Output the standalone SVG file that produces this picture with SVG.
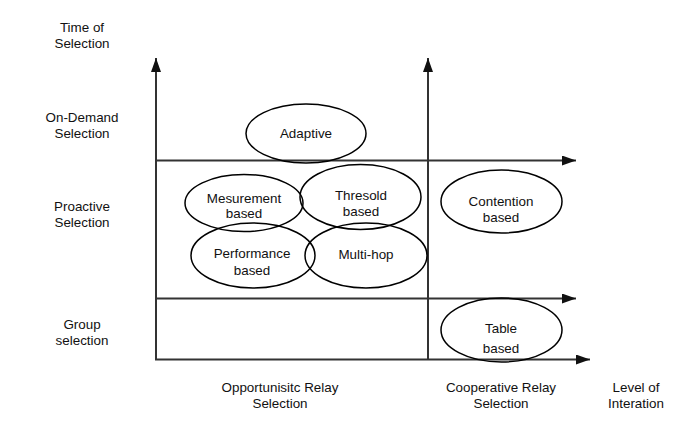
<svg xmlns="http://www.w3.org/2000/svg" width="699" height="434" viewBox="0 0 699 434">
<style>
  .ax { stroke: #333; stroke-width: 2; fill: none; }
  .el { stroke: #000; stroke-width: 1.5; fill: none; }
  text { font-family: "Liberation Sans", Arial, sans-serif; font-size: 13.4px; fill: #111; text-anchor: middle; }
</style>
<defs>
  <marker id="arr" viewBox="0 0 14 10" refX="14" refY="5" markerWidth="14" markerHeight="10" markerUnits="userSpaceOnUse" orient="auto">
    <path d="M0,0 L14,5 L0,10 Z" fill="#111"/>
  </marker>
</defs>
<rect width="699" height="434" fill="#fff"/>
<g id="connectors">
  <line class="ax" x1="156" y1="360" x2="156" y2="58" marker-end="url(#arr)"/>
  <line class="ax" x1="428" y1="360" x2="428" y2="58" marker-end="url(#arr)"/>
  <line class="ax" x1="156" y1="160.5" x2="576" y2="160.5" marker-end="url(#arr)"/>
  <line class="ax" x1="156" y1="298.5" x2="576" y2="298.5" marker-end="url(#arr)"/>
  <line class="ax" x1="155" y1="359.5" x2="590" y2="359.5" marker-end="url(#arr)"/>
</g>
<g id="labels">
  <text x="82" y="32">Time of</text>
  <text x="82" y="48">Selection</text>
  <text x="82" y="122">On-Demand</text>
  <text x="82" y="138">Selection</text>
  <text x="82" y="211">Proactive</text>
  <text x="82" y="227">Selection</text>
  <text x="82" y="329">Group</text>
  <text x="82" y="345">selection</text>
  <text x="280" y="392">Opportunisitc Relay</text>
  <text x="280" y="408">Selection</text>
  <text x="501" y="392">Cooperative Relay</text>
  <text x="501" y="408">Selection</text>
  <text x="636" y="392">Level of</text>
  <text x="636" y="408">Interation</text>
</g>
<g id="adaptive">
  <ellipse class="el" cx="306" cy="133.5" rx="60" ry="29.5"/>
  <text x="306" y="137.5">Adaptive</text>
</g>
<g id="mesurement">
  <ellipse class="el" cx="244" cy="203" rx="59" ry="28.5"/>
  <text x="244" y="203">Mesurement</text>
  <text x="244" y="218">based</text>
</g>
<g id="thresold">
  <ellipse class="el" cx="360.5" cy="197" rx="60.5" ry="32.5"/>
  <text x="361" y="200">Thresold</text>
  <text x="361" y="216">based</text>
</g>
<g id="performance">
  <ellipse class="el" cx="253" cy="255.5" rx="62" ry="32.5"/>
  <text x="252" y="258">Performance</text>
  <text x="252" y="275">based</text>
</g>
<g id="multihop">
  <ellipse class="el" cx="366" cy="255.5" rx="61" ry="32.5"/>
  <text x="366" y="258.5">Multi-hop</text>
</g>
<g id="contention">
  <ellipse class="el" cx="501.5" cy="201.5" rx="60.5" ry="31.5"/>
  <text x="501" y="205.5">Contention</text>
  <text x="501" y="221.5">based</text>
</g>
<g id="table">
  <ellipse class="el" cx="501.5" cy="330" rx="60.5" ry="32"/>
  <text x="501" y="333">Table</text>
  <text x="501" y="353">based</text>
</g>
</svg>
